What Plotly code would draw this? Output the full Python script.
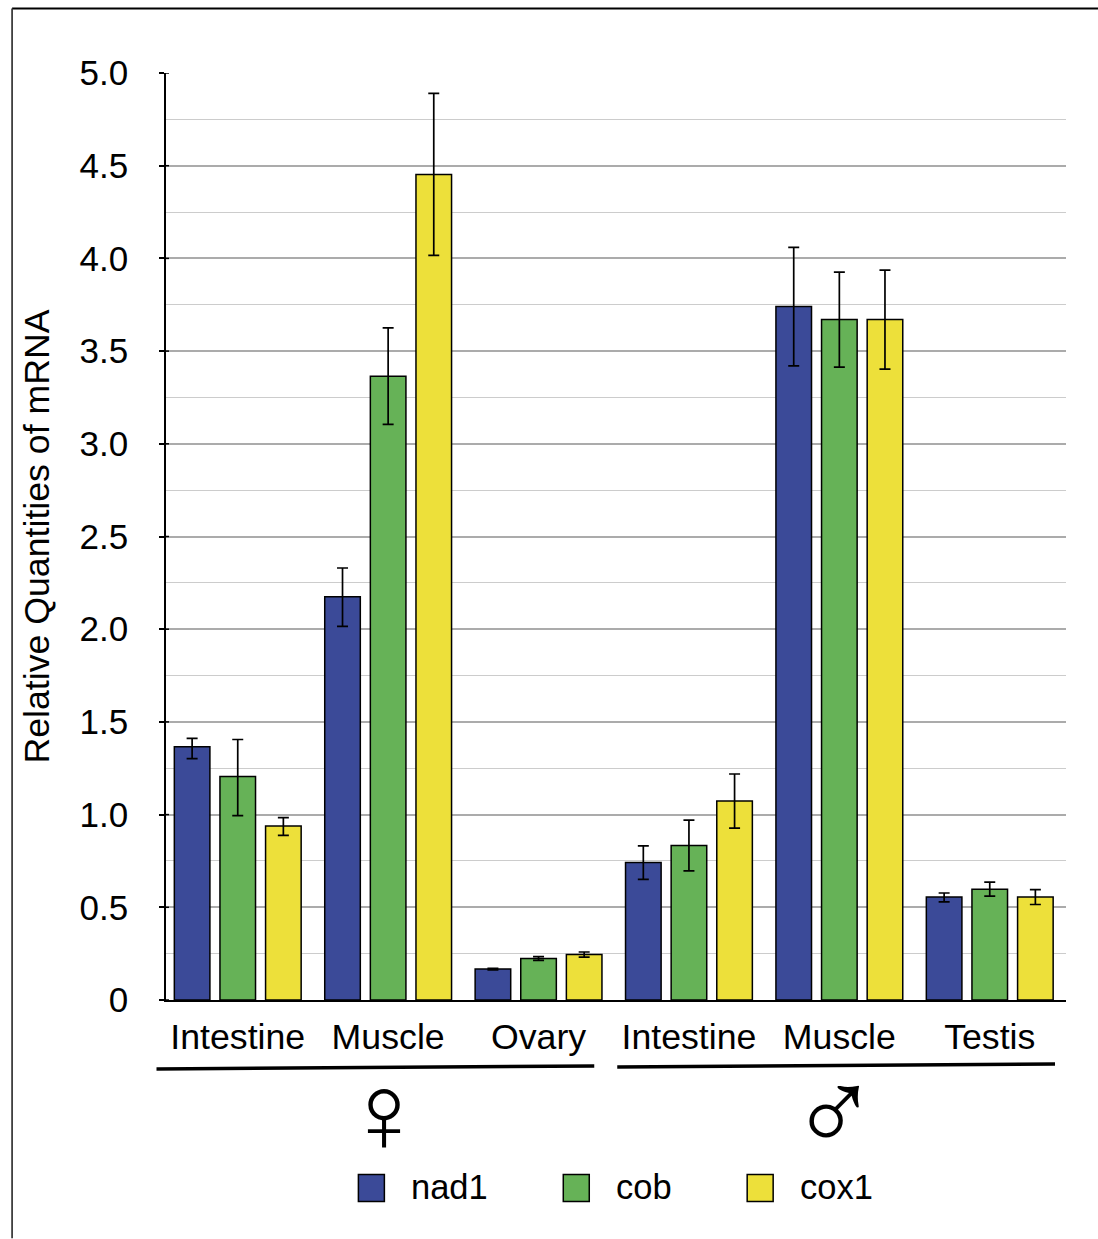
import plotly.graph_objects as go

tissues = ["Intestine", "Muscle", "Ovary", "Intestine", "Muscle", "Testis"]
positions = [0, 1, 2, 3, 4, 5]
nad1 = [1.366, 2.175, 0.167, 0.741, 3.74, 0.555]
cob = [1.205, 3.365, 0.224, 0.833, 3.67, 0.598]
cox1 = [0.938, 4.453, 0.245, 1.073, 3.67, 0.555]
nad1_err_up = [0.045, 0.155, 0.004, 0.09, 0.32, 0.022]
nad1_err_down = [0.064, 0.16, 0.004, 0.09, 0.32, 0.026]
cob_err_up = [0.2, 0.26, 0.01, 0.137, 0.256, 0.038]
cob_err_down = [0.21, 0.26, 0.01, 0.137, 0.256, 0.038]
cox1_err_up = [0.046, 0.437, 0.014, 0.146, 0.267, 0.04]
cox1_err_down = [0.05, 0.437, 0.014, 0.146, 0.267, 0.04]
y_ticks = [0, 0.5, 1.0, 1.5, 2.0, 2.5, 3.0, 3.5, 4.0, 4.5, 5.0]
y_labels = ["0", "0.5", "1.0", "1.5", "2.0", "2.5", "3.0", "3.5", "4.0", "4.5", "5.0"]
series = [("nad1", nad1, nad1_err_up, nad1_err_down, "#3B4A98"),
          ("cob", cob, cob_err_up, cob_err_down, "#66B257"),
          ("cox1", cox1, cox1_err_up, cox1_err_down, "#EDE03A")]

W, H = 1098, 1239
L, R, T, B = 165.5, 1066, 73, 1000.5
FONT = "Liberation Sans"

def px(x):
    return (x - L) / (R - L)

def py(y):
    return (B - y) / (B - T)

fig = go.Figure()
for name, vals, up, down, color in series:
    fig.add_bar(
        x=positions, y=vals, name=name,
        marker=dict(color=color, line=dict(color="black", width=1.5)),
        error_y=dict(type="data", symmetric=False, array=up, arrayminus=down,
                     color="black", thickness=1.7, width=5.5),
    )

shapes = []
def line(x0, y0, x1, y1, w, color="black"):
    shapes.append(dict(type="line", xref="paper", yref="paper", x0=px(x0), y0=py(y0), x1=px(x1), y1=py(y1),
                       line=dict(color=color, width=w)))

line(11.5, 8.5, 1098, 8.5, 2)
line(11.5, 8.5, 11.5, 1239, 1.7, "#333333")
line(156, 1069.5, 594, 1066.5, 3.5)
line(617, 1067.5, 1055, 1064.5, 3.5)

for tick in y_ticks:
    shapes.append(dict(type="line", xref="paper", yref="y", x0=px(165), x1=px(168.5), y0=tick, y1=tick,
                       line=dict(color="black", width=1.5)))

annotations = []
def text(x, y, s, size, anchor="left", family=FONT):
    annotations.append(dict(xref="paper", yref="paper", x=px(x), y=py(y), text=s, showarrow=False,
                            xanchor=anchor, yanchor="middle", font=dict(family=family, size=size, color="black")))

for x0, xt, (name, _, _, _, color) in zip([358, 563, 747], [409, 614, 798], series):
    shapes.append(dict(type="rect", xref="paper", yref="paper", x0=px(x0), x1=px(x0 + 26), y0=py(1202), y1=py(1175),
                       fillcolor=color, line=dict(color="black", width=1.5)))
    text(xt, 1188, name, 34.5)

text(384, 1114, "\u2640", 112, "center", FONT)
text(834, 1112, "\u2642", 118, "center", FONT)

fig.update_layout(
    width=W, height=H, margin=dict(l=L, r=W - R, t=T, b=H - B),
    plot_bgcolor="white", paper_bgcolor="white",
    barmode="group", bargap=0.09, bargroupgap=0.22, showlegend=False,
    font=dict(family=FONT, color="black"),
    shapes=shapes, annotations=annotations,
    xaxis=dict(range=[-0.477, 5.507], tickvals=positions, ticktext=tissues, ticks="",
               tickfont=dict(size=35.7), ticklabelstandoff=4,
               showgrid=False, showline=True, linecolor="black", linewidth=1.7, zeroline=False),
    yaxis=dict(range=[0, 5], tickvals=y_ticks, ticktext=y_labels, ticks="outside", ticklen=5, tickwidth=1.5,
               tickcolor="black", tickfont=dict(size=35), ticklabelstandoff=24,
               showline=True, linecolor="black", linewidth=1.7,
               showgrid=True, gridcolor="#ABABAB", gridwidth=1.5, zeroline=False,
               minor=dict(dtick=0.25, showgrid=True, gridcolor="#CCCCCC", gridwidth=1, ticks=""),
               title=dict(text="Relative Quantities of mRNA", font=dict(size=35.7), standoff=19)),
)

fig.write_html("out.html", config=dict(displayModeBar=False),
               post_script="document.body.style.margin='0';document.body.style.overflow='hidden';")
